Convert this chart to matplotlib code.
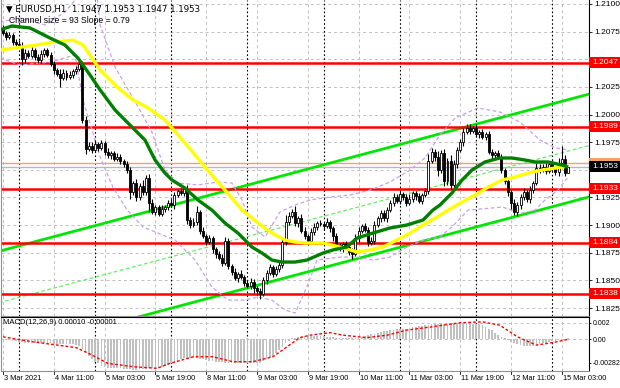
import numpy as np
import matplotlib.pyplot as plt
from matplotlib.patches import Rectangle

plt.rcParams['font.family'] = ['Liberation Sans', 'DejaVu Sans']

# EURUSD H1 closes, bar 0 = 3 Mar 19:00
open0 = 1.2078
closes = [
    1.2074, 1.2070, 1.2072, 1.2066, 1.2064, 1.2062, 1.2050, 1.2056, 1.2053, 1.2058,
    1.2052, 1.2049, 1.2055, 1.2058, 1.2054, 1.2046, 1.2040, 1.2037, 1.2033, 1.2038,
    1.2034, 1.2036, 1.2039, 1.2041, 1.2046, 1.1995, 1.1969, 1.1972, 1.1968, 1.1973,
    1.1970, 1.1974, 1.1966, 1.1963, 1.1965, 1.1960, 1.1962, 1.1958, 1.1955, 1.1950,
    1.1930, 1.1938, 1.1925, 1.1935, 1.1930, 1.1943, 1.1920, 1.1912, 1.1916, 1.1910,
    1.1915, 1.1916, 1.1920, 1.1918, 1.1927, 1.1931, 1.1929, 1.1933, 1.1905, 1.1900,
    1.1903, 1.1912, 1.1895, 1.1890, 1.1885, 1.1888, 1.1878, 1.1874, 1.1870, 1.1866,
    1.1886, 1.1863, 1.1858, 1.1852, 1.1856, 1.1853, 1.1848, 1.1845, 1.1849, 1.1843,
    1.1840, 1.1838, 1.1850, 1.1857, 1.1862, 1.1856, 1.1860, 1.1864, 1.1885, 1.1903,
    1.1908, 1.1912, 1.1902, 1.1906, 1.1895, 1.1890, 1.1886, 1.1894, 1.1898, 1.1902,
    1.1901, 1.1899, 1.1903, 1.1897, 1.1890, 1.1882, 1.1879, 1.1883, 1.1880, 1.1876,
    1.1874, 1.1888, 1.1895, 1.1899, 1.1896, 1.1884, 1.1886, 1.1900, 1.1906, 1.1911,
    1.1906, 1.1914, 1.1920, 1.1925, 1.1922, 1.1928, 1.1925, 1.1920, 1.1924, 1.1929,
    1.1926, 1.1922, 1.1927, 1.1931, 1.1958, 1.1966, 1.1962, 1.1950, 1.1965, 1.1940,
    1.1958, 1.1936, 1.1955, 1.1968, 1.1975, 1.1984, 1.1988, 1.1985, 1.1988, 1.1982,
    1.1984, 1.1980, 1.1982, 1.1966, 1.1963, 1.1965, 1.1962, 1.1950, 1.1940, 1.1930,
    1.1920, 1.1912, 1.1918, 1.1925, 1.1930, 1.1924, 1.1932, 1.1938, 1.1952, 1.1950,
    1.1953, 1.1949, 1.1955, 1.1951, 1.1948, 1.1956, 1.1960, 1.1947, 1.1953,
]
# wick lengths in pips
wick_up = [
    3, 2, 3, 2, 2, 3, 4, 3, 2, 3, 2, 3, 3, 2, 2, 3, 2, 2, 4, 3,
    2, 3, 2, 3, 2, 2, 4, 3, 3, 4, 2, 3, 2, 4, 2, 2, 3, 2, 2, 3,
    3, 2, 4, 3, 6, 2, 3, 4, 2, 2, 3, 2, 3, 4, 3, 2, 3, 2, 3, 2,
    3, 5, 2, 3, 2, 3, 2, 2, 3, 4, 3, 2, 2, 3, 2, 3, 2, 2, 3, 2,
    2, 3, 3, 2, 3, 2, 3, 4, 2, 6, 4, 3, 5, 2, 4, 3, 2, 3, 4, 2,
    3, 2, 3, 2, 2, 3, 2, 2, 3, 2, 3, 4, 3, 2, 3, 2, 3, 4, 2, 3,
    3, 2, 3, 4, 3, 3, 2, 3, 4, 2, 2, 3, 2, 3, 6, 4, 3, 5, 3, 4,
    3, 5, 4, 3, 3, 4, 3, 3, 2, 3, 2, 3, 2, 3, 3, 2, 3, 2, 2, 3,
    2, 4, 3, 3, 4, 2, 3, 2, 4, 3, 2, 3, 2, 3, 2, 5, 12, 3, 0,
]
wick_dn = [
    2, 3, 2, 3, 2, 2, 5, 3, 2, 2, 3, 2, 2, 3, 2, 2, 3, 2, 8, 2,
    3, 2, 3, 2, 2, 3, 5, 2, 3, 2, 3, 2, 3, 2, 3, 2, 2, 3, 2, 3,
    6, 3, 3, 2, 3, 3, 8, 2, 3, 2, 2, 3, 2, 2, 3, 2, 2, 3, 4, 3,
    2, 3, 3, 2, 3, 2, 3, 4, 2, 3, 2, 3, 3, 2, 3, 2, 3, 2, 3, 4,
    3, 5, 2, 3, 2, 3, 2, 2, 3, 3, 3, 2, 3, 4, 2, 3, 4, 2, 3, 2,
    2, 3, 2, 3, 4, 3, 2, 3, 2, 3, 5, 2, 3, 2, 2, 3, 2, 3, 2, 3,
    2, 3, 2, 3, 2, 3, 2, 3, 2, 3, 3, 2, 3, 2, 3, 2, 4, 6, 3, 5,
    4, 3, 2, 3, 2, 3, 2, 3, 2, 2, 3, 2, 3, 2, 3, 3, 2, 3, 3, 4,
    5, 3, 4, 3, 2, 3, 4, 3, 2, 3, 2, 3, 2, 3, 3, 4, 2, 3, 0,
]

# moving averages (bar index, price)
green_bars = [-1, 2.8, 8.5, 14.8, 19.5, 23.6, 27.4, 30.6, 35.3, 40, 44.7, 47.9, 51, 53.2,
              57.3, 61.4, 65.8, 69.9, 74, 78.4, 81.6, 84.7, 87.9, 92, 95.7, 100.8, 103.9,
              108.3, 111.5, 116.5, 121.9, 127.2, 132.3, 135.4, 137.6, 141.4, 144.6, 147.7,
              151.8, 156.5, 160.3, 164.4, 167.6, 171.7, 176.1, 178]
green_vals = [1.20765, 1.20801, 1.20783, 1.20692, 1.20629, 1.20511, 1.20358, 1.20222,
              1.20041, 1.19905, 1.19770, 1.19589, 1.19471, 1.19408, 1.19335, 1.19227,
              1.19136, 1.19019, 1.18928, 1.18802, 1.18747, 1.18684, 1.18666, 1.18666,
              1.18684, 1.18747, 1.18775, 1.18802, 1.18883, 1.18928, 1.18974, 1.19001,
              1.19046, 1.19136, 1.19181, 1.19290, 1.19408, 1.19498, 1.19571, 1.19607,
              1.19607, 1.19589, 1.19571, 1.19571, 1.19543, 1.19525]
yellow_bars = [-1, 8.5, 16.4, 22, 25.2, 30.6, 35.9, 40.9, 45.7, 51, 57.3, 63.6, 69.9, 75.3,
               80.3, 84.7, 88.8, 92, 95.7, 100.8, 106.1, 111.5, 115.6, 119.7, 124.1, 128.2,
               132.3, 136.7, 140.2, 144.6, 148.7, 152.8, 157.2, 161.3, 165.4, 169.8, 173.9, 178]
yellow_vals = [1.20584, 1.20620, 1.20656, 1.20674, 1.20629, 1.20403, 1.20249, 1.20132,
               1.20059, 1.19951, 1.19743, 1.19525, 1.19317, 1.19136, 1.19019, 1.18928,
               1.18865, 1.18847, 1.18838, 1.18838, 1.18802, 1.18757, 1.18775, 1.18802,
               1.18865, 1.18928, 1.19001, 1.19073, 1.19136, 1.19209, 1.19272, 1.19344,
               1.19408, 1.19435, 1.19471, 1.19498, 1.19516, 1.19534]
# envelope bands (dashed lavender)
band_up_bars = [-1, 5.4, 13.2, 19.5, 22.7, 29.6, 30.6, 35.3, 43.1, 46.9, 51, 55.1, 61.4,
                67.7, 72.1, 75.3, 78.4, 82.5, 87.2, 92, 96.7, 103, 109.3, 115.6, 121.9,
                128.2, 132.9, 137.6, 142.4, 149.6, 156.5, 162.8, 169.1, 173.9, 178]
band_up_vals = [1.20837, 1.20873, 1.20810, 1.20927, 1.21036, 1.21081, 1.20810, 1.20430,
                1.20041, 1.19842, 1.19498, 1.19381, 1.19363, 1.19390, 1.19381, 1.19227,
                1.18983, 1.18892, 1.19118, 1.19182, 1.19227, 1.19254, 1.19272, 1.19317,
                1.19390, 1.19498, 1.19607, 1.19815, 1.19969, 1.20059, 1.20023, 1.19932,
                1.19770, 1.19700, 1.19679]
band_dn_bars = [-1, 5.4, 14.8, 22.7, 25.2, 30.6, 34.6, 39.1, 44.1, 48.8, 54.2, 60.5, 65.8,
                70.9, 76.2, 80.3, 84.7, 88.8, 92, 95.7, 98.9, 106.1, 111.5, 116.5, 121.9,
                127.2, 132.3, 137.6, 141.4, 146.5, 157.2, 163.5, 167.6, 170.7, 174.8, 178]
band_dn_vals = [1.20511, 1.20448, 1.20475, 1.20539, 1.20131, 1.19616, 1.19344, 1.19136,
                1.18983, 1.18928, 1.18865, 1.18684, 1.18440, 1.18322, 1.18322, 1.18349,
                1.18322, 1.18232, 1.18205, 1.18440, 1.18684, 1.18711, 1.18711, 1.18684,
                1.18711, 1.18802, 1.18865, 1.18892, 1.18983, 1.19136, 1.19163, 1.19109,
                1.19136, 1.19227, 1.19317, 1.19435]

# regression channel: upper line at bar 0, slope per bar, channel size
chan_start = 1.18773
chan_slope = 0.0000765
chan_size = 0.0093

levels = [1.2047, 1.1989, 1.1933, 1.1884, 1.1838]
bid = 1.1953
ask = 1.1956

# MACD main (histogram) in 1e-4 and signal points
macd = [
    -1, -1, -1, -2, -2, -3, -3, -4, -4, -4, -4, -5, -5, -5, -5,
    -5, -6, -6, -6, -6, -6, -6, -6, -7, -8, -12, -16, -20, -24, -27, -29,
    -32, -33, -34, -35, -35, -35, -35, -36, -36, -36, -37, -37, -36, -36, -36, -35, -35, -35, -34,
    -33, -32, -31, -29, -27, -26, -24, -23, -22, -22, -23, -23, -24,
    -24, -25, -26, -26, -27, -27, -27, -28, -28, -29, -29, -29, -29, -29, -29, -29, -28, -28, -28,
    -26, -24, -22, -20, -17, -13, -9, -5, -2, 1, 2, 3, 4, 4, 4,
    4, 4, 4, 4, 4, 3, 3, 3, 2, 2, 2, 2, 2, 2, 2, 2, 3, 4, 5,
    6, 7, 8, 9, 10, 10, 11, 11, 12, 12, 13, 13, 14,
    15, 15, 16, 16, 17, 17, 18, 18, 19, 19,
    19, 19, 20, 20, 20, 20, 20, 20, 20, 19, 19, 18, 17, 15,
    13, 11, 8, 5, 3, 1, -1,
    -3, -5, -6, -7, -8, -8, -8, -8, -7, -6, -5, -4, -3,
    -2, -2, -1, -1, 0, 1,
]
sig_bars = [0, 9.4, 23, 27, 33, 41, 48.5, 52.6, 60, 66, 72.4, 78.7, 85, 88, 93.5, 96.7, 103,
            107, 114.6, 121, 127, 135, 144, 151, 156.5, 162, 168, 173, 178]
sig_vals = [3, -3, -10, -17, -29, -33, -35, -29, -21, -21, -27, -27, -21, -13, 2, 5, 8, 5, 2,
            5, 11, 15, 20, 21, 17, 3, -7, -4, 0]

date_labels = ['3 Mar 2021', '4 Mar 11:00', '5 Mar 03:00', '5 Mar 19:00', '8 Mar 11:00',
               '9 Mar 03:00', '9 Mar 19:00', '10 Mar 11:00', '11 Mar 03:00', '11 Mar 19:00',
               '12 Mar 11:00', '15 Mar 03:00']
day_starts = [5, 29, 53, 77, 101, 125, 149, 173]

W, H = 620, 388
fig = plt.figure(figsize=(W / 100, H / 100), dpi=100)
ax = fig.add_axes([1 / W, (H - 316) / H, 588 / W, 316 / H])
mx = fig.add_axes([1 / W, (H - 370.5) / H, 588 / W, 53.5 / H])

x_lo, x_hi = -0.63, 184.57
y_top, y_bot = 1.21036, 1.18178

n = len(closes)
xs = np.arange(n)
c = np.array(closes)
o = np.r_[open0, c[:-1]]
hi = np.maximum(o, c) + np.array(wick_up) * 1e-4
lo = np.minimum(o, c) - np.array(wick_dn) * 1e-4

grid_kw = dict(color='#c0c0c0', lw=0.7, ls=(0, (3, 3)), zorder=0)
price_grid = np.arange(1.1825, 1.2101, 0.0025)
for p in price_grid:
    ax.axhline(p, **grid_kw)
for i in range(0, n, 16):
    ax.axvline(i, **grid_kw)
    mx.axvline(i, **grid_kw)
for d in day_starts:
    ax.axvline(d, color='black', lw=0.8, ls=(0, (1.5, 2)), zorder=0.5)
    mx.axvline(d, color='black', lw=0.8, ls=(0, (1.5, 2)), zorder=0.5)

# channel
cx = np.array([x_lo - 2, x_hi + 2])
upper = chan_start + chan_slope * cx
ax.plot(cx, upper, color='#00e600', lw=2, zorder=2)
ax.plot(cx, upper - chan_size, color='#00e600', lw=2, zorder=2)
ax.plot(cx, upper - chan_size / 2, color='#66ee66', lw=0.9, ls=(0, (3, 2)), zorder=2)

# levels
for lv in levels:
    ax.axhline(lv, color='#ff0000', lw=1.8, zorder=2)
ax.axhline(ask, color='#f4a070', lw=1.0, zorder=1.5)
ax.axhline(bid, color='#b8b8b8', lw=1.0, zorder=1.5)

# bands
ax.plot(band_up_bars, band_up_vals, color='#c8a0e8', lw=0.9, ls=(0, (3, 2)), zorder=2.5)
ax.plot(band_dn_bars, band_dn_vals, color='#c8a0e8', lw=0.9, ls=(0, (3, 2)), zorder=2.5)

# candles
ax.vlines(xs, lo, hi, color='black', lw=0.8, zorder=3)
body = np.maximum(np.abs(c - o), 0.00003)
up = c >= o
ax.bar(xs[up], body[up], bottom=o[up], width=0.62, color='white', edgecolor='black',
       lw=0.6, zorder=3.2)
ax.bar(xs[~up], body[~up], bottom=c[~up], width=0.62, color='black', edgecolor='black',
       lw=0.6, zorder=3.2)

# moving averages
ax.plot(yellow_bars, yellow_vals, color='#ffff00', lw=2.4, zorder=4, solid_capstyle='butt')
ax.plot(green_bars, green_vals, color='#008000', lw=2.4, zorder=4.1, solid_capstyle='butt')

ax.set_xlim(x_lo, x_hi)
ax.set_ylim(y_bot, y_top)
ax.set_xticks([])
ax.yaxis.tick_right()
shown = [p for p in price_grid if abs(p - 1.2050) > 1e-6 and abs(p - 1.1950) > 1e-6]
ax.set_yticks(shown)
ax.set_yticklabels(['%.4f' % p for p in shown])
ax.tick_params(axis='y', labelsize=6, length=2, pad=2, width=0.6)
for s in ['top', 'left', 'bottom']:
    ax.spines[s].set_color('#909090')
ax.spines['right'].set_color('black')
ax.spines['top'].set_visible(False)

# price boxes on the right
tr = ax.get_yaxis_transform()
box_h = 11 / 11055
def price_box(p, fc, txt=None):
    ax.add_patch(Rectangle((1.0, p - box_h / 2), 31 / 588, box_h, transform=tr,
                           facecolor=fc, edgecolor='none', clip_on=False, zorder=10))
    if txt:
        ax.text(1.006, p, txt, transform=tr, color='white', fontsize=6, va='center',
                ha='left', zorder=11, clip_on=False)
for lv in levels:
    price_box(lv, '#ff0000', '%.4f' % lv)
price_box(ask, '#f4a070')
price_box(bid, 'black', '%.4f' % bid)

ax.text(0.008, 0.985, '\u25bc EURUSD,H1  1.1947 1.1953 1.1947 1.1953', transform=ax.transAxes,
        fontsize=6.2, va='top', ha='left', zorder=12, family=['DejaVu Sans'])
ax.text(0.013, 0.948, 'Channel size = 93 Slope = 0.79', transform=ax.transAxes,
        fontsize=6.2, va='top', ha='left', zorder=12)

# MACD panel
mx.bar(xs, np.array(macd) * 1e-4, width=0.55, color='#c0c0c0', zorder=2)
mx.plot(sig_bars, np.array(sig_vals) * 1e-4, color='#ff0000', lw=1.0, ls=(0, (2, 1.5)), zorder=3)
mx.axhline(0, **grid_kw)
mx.axhline(0.002, **grid_kw)
mx.set_xlim(x_lo, x_hi)
mx.set_ylim(-0.00376, 0.00269)
mx.set_xticks([])
mx.yaxis.tick_right()
mx.set_yticks([0.002, 0.0, -0.00282])
mx.set_yticklabels(['0.002', '0.00', '-0.00282'])
mx.tick_params(axis='y', labelsize=5, length=1.5, pad=1, width=0.6)
for s in ['top', 'left', 'bottom']:
    mx.spines[s].set_color('#909090')
mx.spines['top'].set_color('black')
mx.spines['right'].set_color('black')
mx.text(0.003, 0.97, 'MACD(12,26,9) 0.00010 -0.00001', transform=mx.transAxes,
        fontsize=5.5, va='top', ha='left')

# time axis labels
xt = mx.get_xaxis_transform()
for k, lab in enumerate(date_labels):
    b = k * 16
    mx.plot([b, b], [0, -0.06], transform=xt, color='black', lw=0.6, clip_on=False)
    mx.text(b + 0.3, -0.15, lab, transform=xt, fontsize=5.3, va='center', ha='left',
            clip_on=False)

fig.savefig('out.png', dpi=100, facecolor='white')
